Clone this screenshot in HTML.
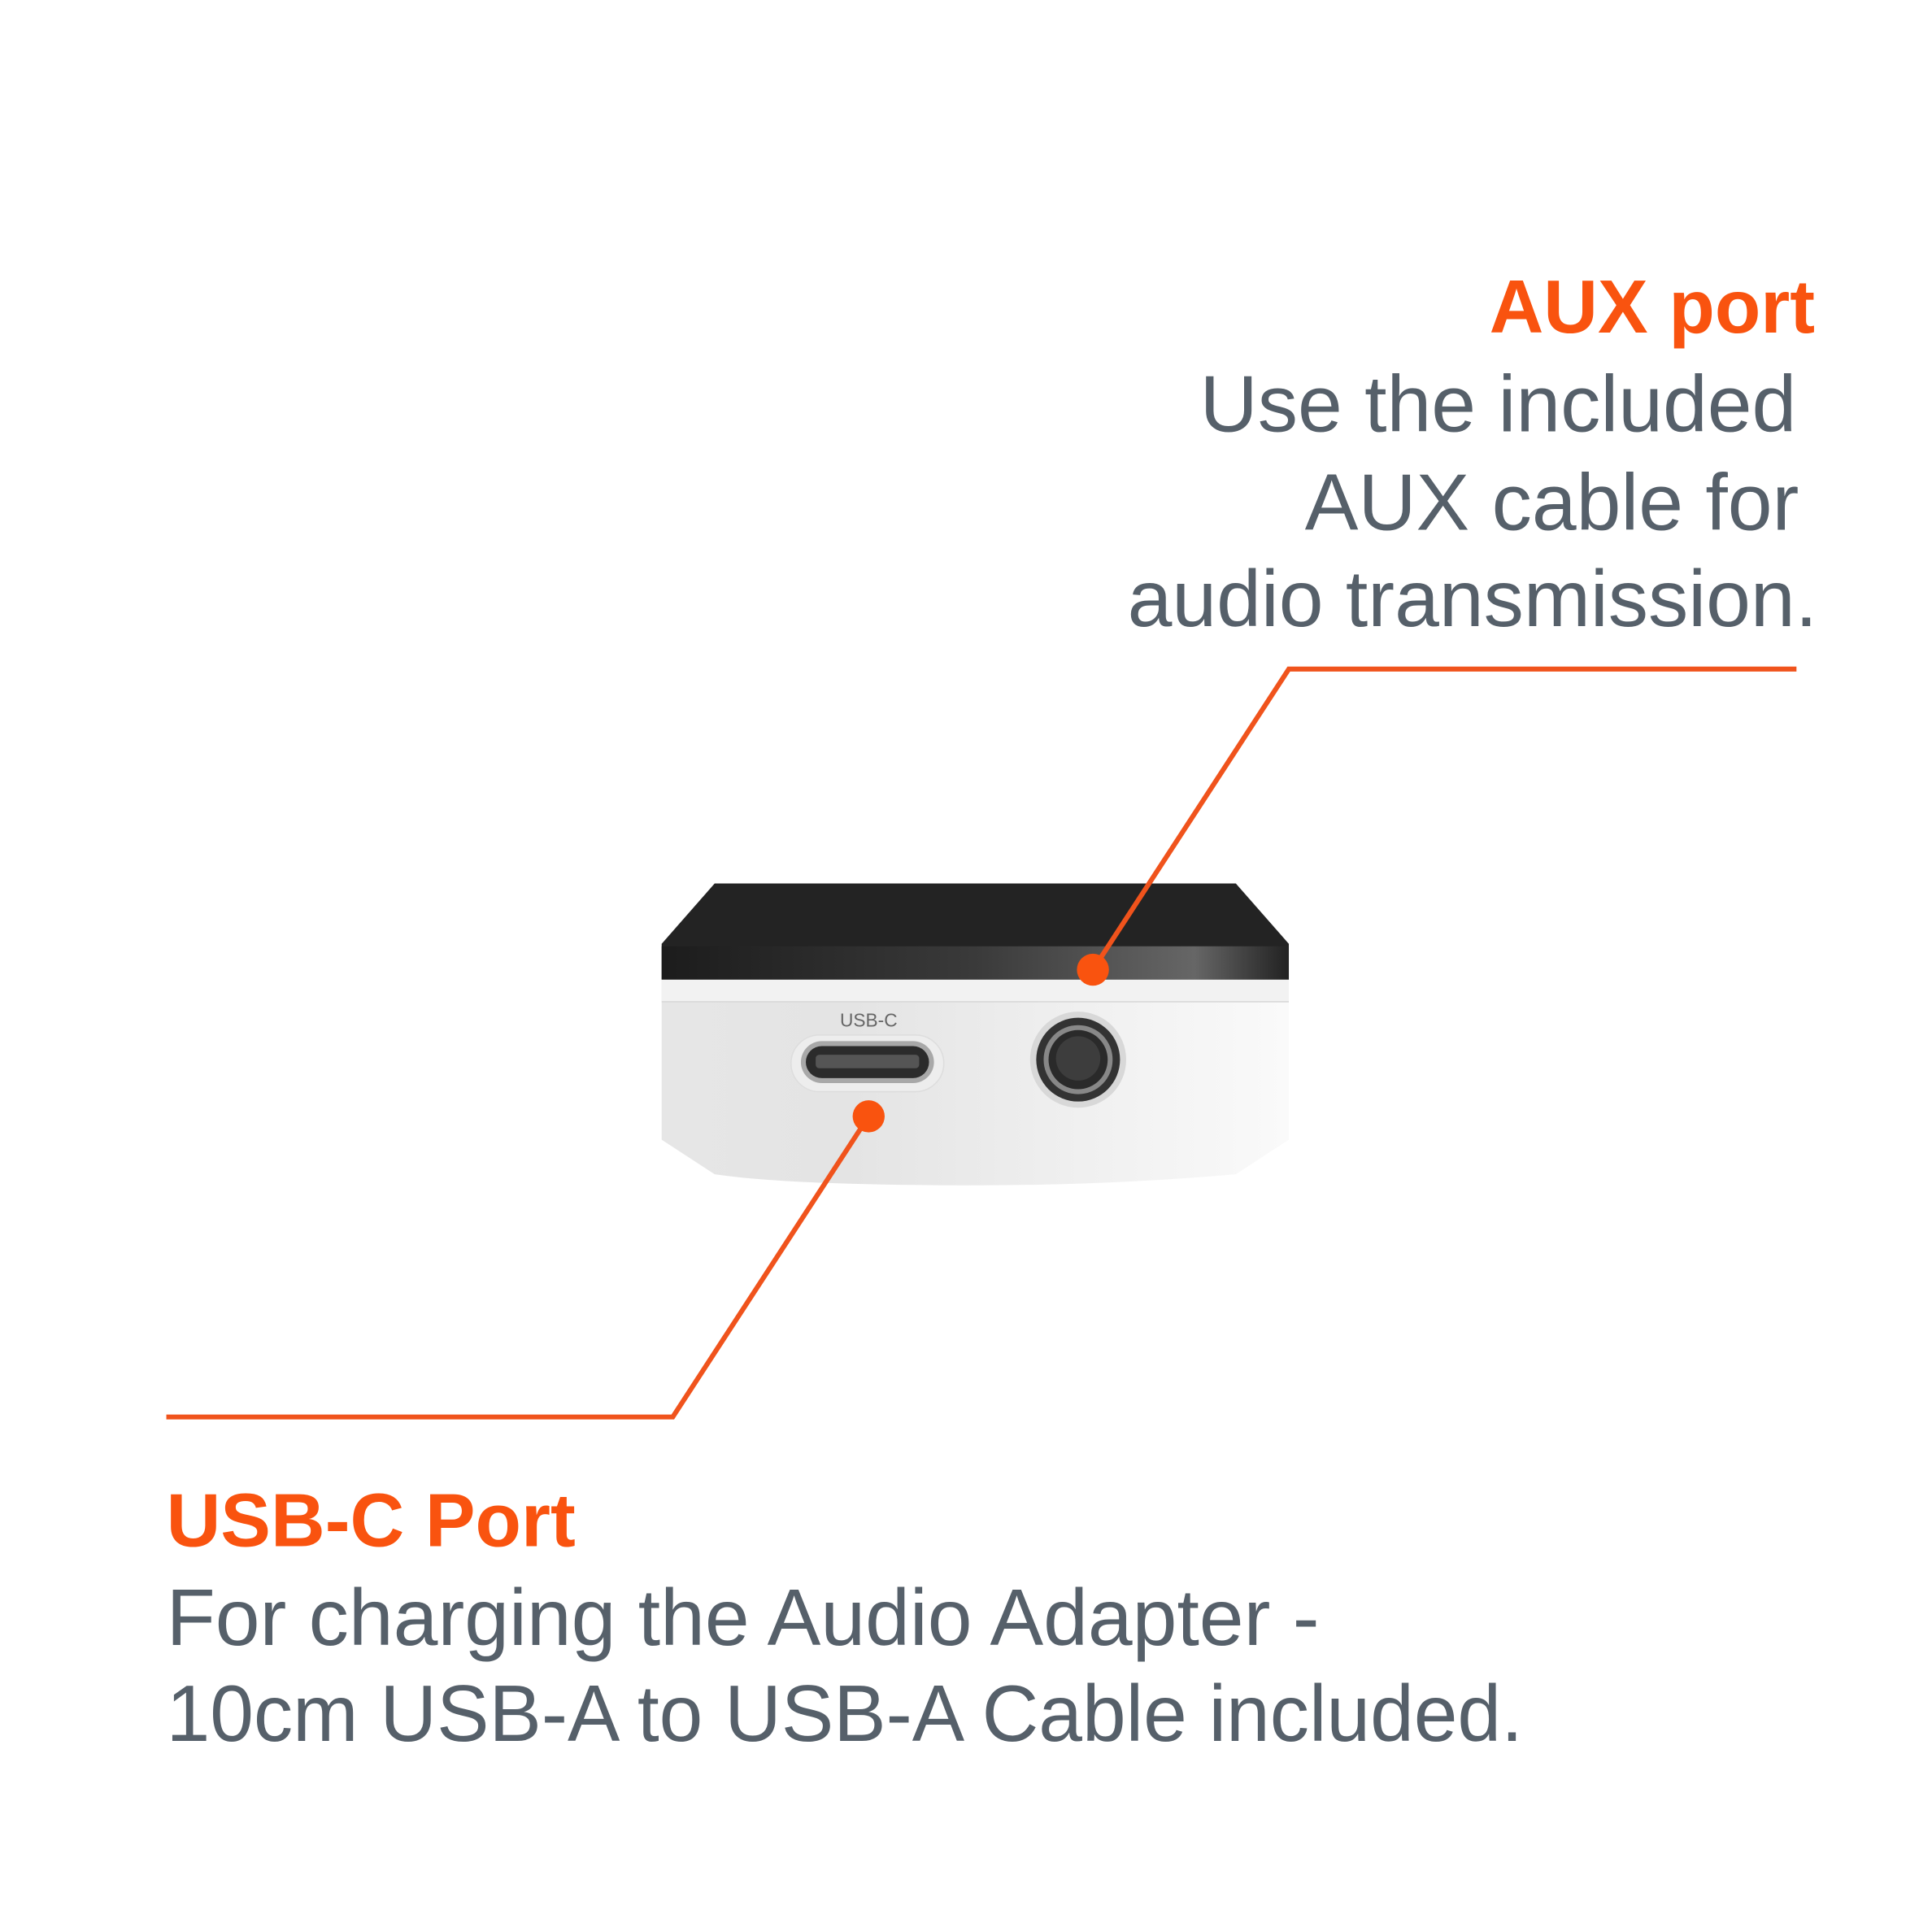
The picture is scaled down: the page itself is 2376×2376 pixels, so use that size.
<!DOCTYPE html>
<html><head><meta charset="utf-8"><style>html,body{margin:0;padding:0;background:#fff}svg{display:block}</style></head>
<body>
<svg width="2376" height="2376" viewBox="0 0 1568 1568" xmlns="http://www.w3.org/2000/svg">
<defs>
<linearGradient id="top" x1="0" y1="0" x2="1" y2="0">
<stop offset="0" stop-color="#1c1c1c"/><stop offset="0.5" stop-color="#3a3a3a"/><stop offset="0.85" stop-color="#666"/><stop offset="1" stop-color="#222"/>
</linearGradient>
<linearGradient id="body" x1="0" y1="0" x2="1" y2="0">
<stop offset="0" stop-color="#e6e6e6"/><stop offset="0.3" stop-color="#e4e4e4"/><stop offset="0.8" stop-color="#f4f4f4"/><stop offset="1" stop-color="#fafafa"/>
</linearGradient>
</defs>
<rect width="1568" height="1568" fill="#fff"/>
<path d="M537,925 L537,795 L1046,795 L1046,925 L1003,953 Q900,962 790,962 Q640,962 580,953 Z" fill="url(#body)"/>
<rect x="537" y="795" width="509" height="18" fill="#f2f2f2"/>
<line x1="537" y1="813" x2="1046" y2="813" stroke="#d8d8d8" stroke-width="1"/>
<path d="M580,717 L1003,717 L1046,766 L1046,795 L537,795 L537,766 Z" fill="#232323"/>
<rect x="537" y="768" width="509" height="27" fill="url(#top)"/>
<rect x="642" y="840" width="124" height="46" rx="23" fill="#ededed" stroke="#ddd"/>
<rect x="650" y="845" width="108" height="34" rx="17" fill="#a8a8a8"/>
<rect x="654" y="849" width="100" height="26" rx="13" fill="#2b2b2b"/>
<rect x="662" y="856" width="84" height="11" rx="3" fill="#555"/>
<text x="705" y="833" font-family="Liberation Sans, sans-serif" font-size="15" fill="#666" text-anchor="middle">USB-C</text>
<circle cx="875" cy="860" r="39" fill="#d8d8d8"/>
<circle cx="875" cy="860" r="34" fill="#333"/>
<circle cx="875" cy="860" r="28" fill="#888"/>
<circle cx="875" cy="860" r="24" fill="#2a2a2a"/>
<circle cx="875" cy="859" r="18" fill="#3d3d3d"/>
<g stroke="#f0531c" stroke-width="4" fill="none">
<polyline points="1458,543 1046,543 887,787"/>
<polyline points="135,1150 546,1150 705,906"/>
</g>
<circle cx="887" cy="787" r="13" fill="#f9530f"/>
<circle cx="705" cy="906" r="13" fill="#f9530f"/>
<g font-family="Liberation Sans, sans-serif">
<text x="1473" y="270" font-size="61" font-weight="bold" fill="#f9530f" text-anchor="end">AUX port</text>
<g font-size="65" fill="#56606a" text-anchor="end">
<text x="1458" y="350">Use the included</text>
<text x="1460" y="430">AUX cable for</text>
<text x="1475" y="508">audio transmission.</text>
</g>
<text x="135" y="1255" font-size="61" font-weight="bold" fill="#f9530f">USB-C Port</text>
<g font-size="65" fill="#56606a">
<text x="135" y="1335">For charging the Audio Adapter -</text>
<text x="135" y="1413" textLength="1101" lengthAdjust="spacingAndGlyphs">10cm USB-A to USB-A Cable included.</text>
</g>
</g>
</svg>
</body></html>
